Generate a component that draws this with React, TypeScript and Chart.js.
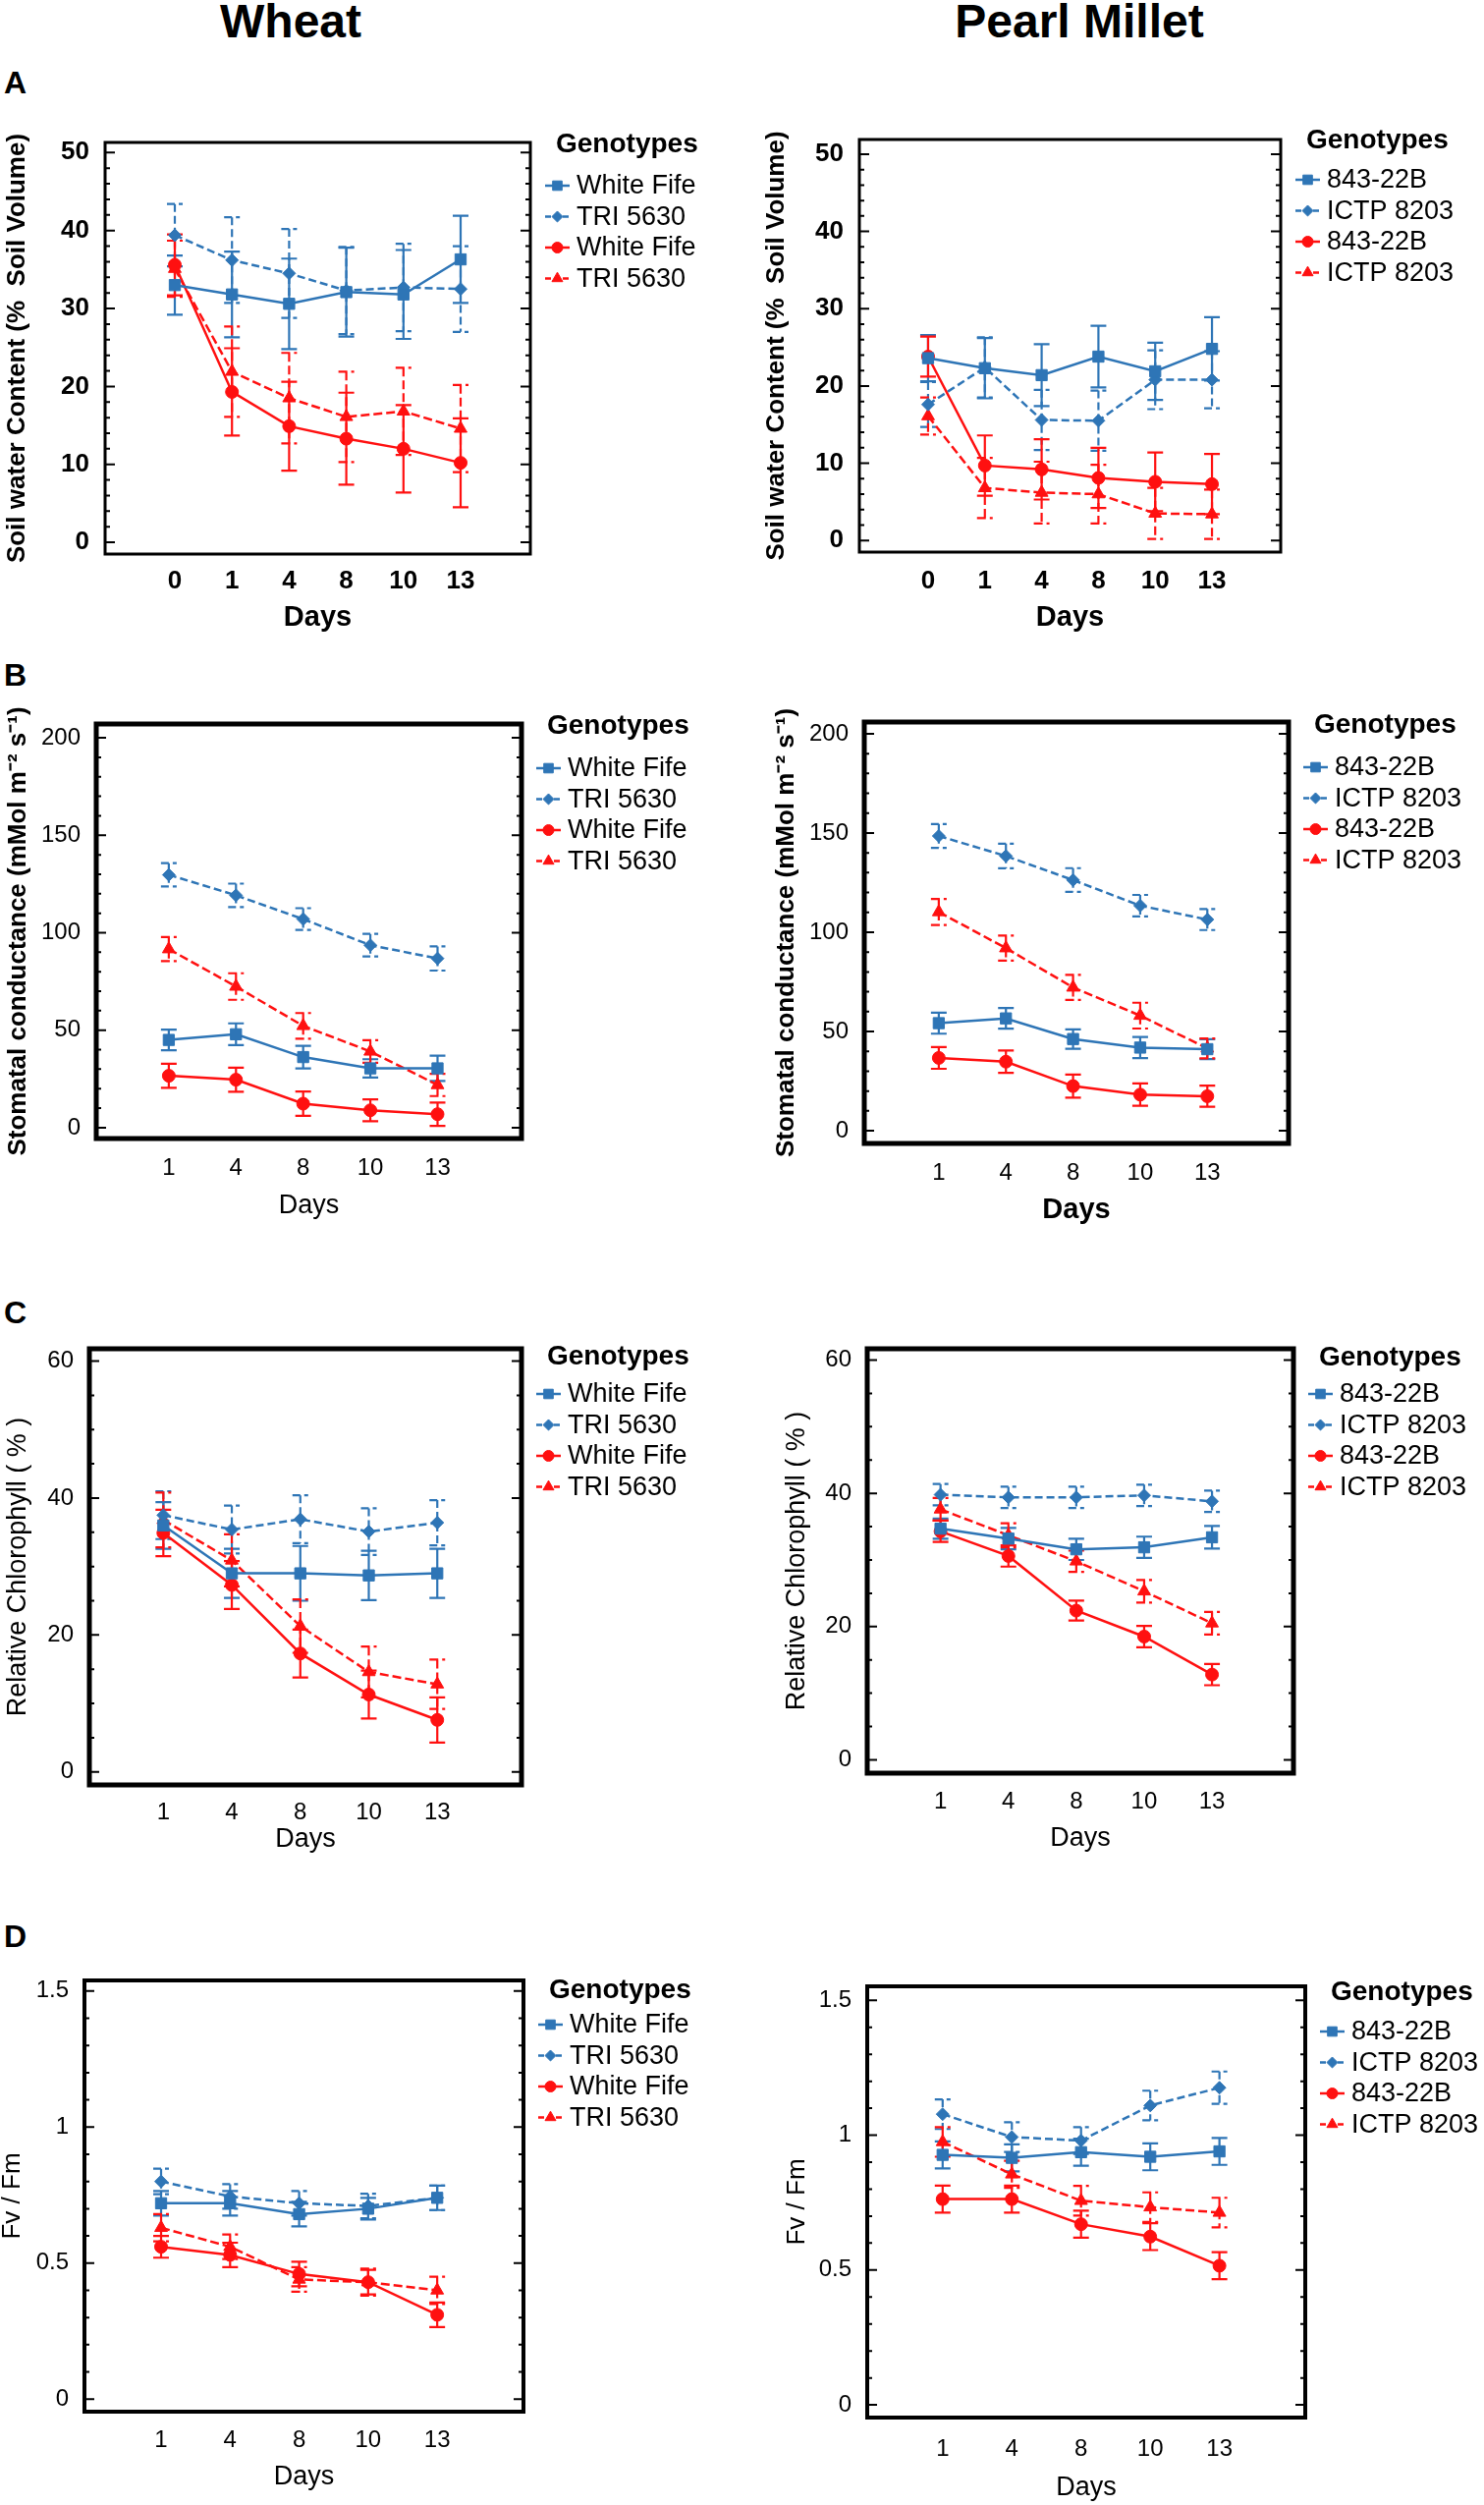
import { useEffect, useRef } from 'react';
import { Chart, registerables } from 'chart.js';
import { drawPoint } from 'chart.js/helpers';

Chart.register(...registerables);

const FONT = "'Liberation Sans', Arial, sans-serif";
const NARROW = "'Liberation Sans Narrow', 'Liberation Sans', Arial, sans-serif";
const BLUE = '#2e75b6';
const RED = '#ff1010';

// ---- x categories ----
const daysSoil = ['0', '1', '4', '8', '10', '13'];
const daysOther = ['1', '4', '8', '10', '13'];

const wheatNames = ['White Fife', 'TRI 5630', 'White Fife', 'TRI 5630'];
const milletNames = ['843-22B', 'ICTP 8203', '843-22B', 'ICTP 8203'];

// ---- A: soil water content ----
const wheatSoilWfBlue = [33.0, 31.8, 30.6, 32.1, 31.8, 36.3];
const wheatSoilWfBlueErr = [3.8, 5.5, 5.8, 5.7, 5.7, 5.6];
const wheatSoilTriBlue = [39.4, 36.2, 34.5, 32.3, 32.7, 32.5];
const wheatSoilTriBlueErr = [4.0, 5.5, 5.7, 5.6, 5.6, 5.5];
const wheatSoilWfRed = [35.6, 19.3, 14.9, 13.3, 12.0, 10.2];
const wheatSoilWfRedErr = [3.9, 5.6, 5.7, 5.9, 5.6, 5.7];
const wheatSoilTriRed = [35.1, 21.9, 18.5, 16.1, 16.8, 14.6];
const wheatSoilTriRedErr = [3.6, 5.8, 5.8, 5.8, 5.6, 5.6];

const milletSoil843Blue = [23.6, 22.3, 21.4, 23.8, 21.9, 24.8];
const milletSoil843BlueErr = [3.0, 3.9, 4.0, 4.0, 3.7, 4.1];
const milletSoilIctpBlue = [17.6, 22.4, 15.6, 15.5, 20.8, 20.8];
const milletSoilIctpBlueErr = [2.9, 3.9, 3.9, 3.9, 3.8, 3.7];
const milletSoil843Red = [23.8, 9.7, 9.2, 8.1, 7.6, 7.3];
const milletSoil843RedErr = [2.6, 3.9, 3.9, 3.9, 3.8, 3.9];
const milletSoilIctpRed = [16.1, 6.8, 6.2, 6.0, 3.5, 3.4];
const milletSoilIctpRedErr = [2.4, 3.9, 4.0, 3.8, 3.3, 3.2];

// ---- B: stomatal conductance ----
const wheatGsWfBlue = [45.0, 47.9, 36.2, 30.4, 30.4];
const wheatGsWfBlueErr = [5.3, 5.6, 5.8, 4.7, 6.5];
const wheatGsTriBlue = [129.7, 119.2, 107.0, 93.6, 86.8];
const wheatGsTriBlueErr = [6.0, 6.0, 5.6, 5.8, 6.2];
const wheatGsWfRed = [26.6, 24.6, 12.3, 8.9, 6.9];
const wheatGsWfRedErr = [6.2, 6.2, 6.2, 5.6, 6.0];
const wheatGsTriRed = [91.6, 72.4, 52.2, 39.1, 21.9];
const wheatGsTriRedErr = [6.2, 6.8, 6.6, 5.8, 5.7];

const milletGs843Blue = [54.2, 56.6, 46.2, 41.9, 41.1];
const milletGs843BlueErr = [5.3, 5.2, 4.9, 5.3, 5.0];
const milletGsIctpBlue = [148.5, 138.4, 126.3, 113.4, 106.4];
const milletGsIctpBlueErr = [6.0, 6.2, 6.0, 5.4, 5.3];
const milletGs843Red = [36.7, 34.8, 22.5, 18.2, 17.4];
const milletGs843RedErr = [5.5, 5.6, 5.8, 5.6, 5.3];
const milletGsIctpRed = [110.2, 92.0, 72.2, 58.0, 41.5];
const milletGsIctpRedErr = [6.6, 6.3, 6.3, 6.5, 5.0];

// ---- C: relative chlorophyll ----
const wheatChlWfBlue = [36.0, 29.0, 29.0, 28.7, 29.0];
const wheatChlWfBlueErr = [3.4, 3.6, 4.0, 3.6, 3.6];
const wheatChlTriBlue = [37.5, 35.4, 36.9, 35.1, 36.4];
const wheatChlTriBlueErr = [3.5, 3.5, 3.5, 3.4, 3.3];
const wheatChlWfRed = [34.9, 27.3, 17.3, 11.3, 7.6];
const wheatChlWfRedErr = [3.4, 3.5, 3.5, 3.5, 3.3];
const wheatChlTriRed = [36.8, 30.9, 21.3, 14.6, 12.8];
const wheatChlTriRedErr = [4.0, 3.8, 3.9, 3.7, 3.6];

const milletChl843Blue = [34.7, 33.2, 31.6, 31.9, 33.4];
const milletChl843BlueErr = [1.5, 1.6, 1.6, 1.6, 1.7];
const milletChlIctpBlue = [39.8, 39.4, 39.4, 39.7, 38.8];
const milletChlIctpBlueErr = [1.6, 1.6, 1.6, 1.6, 1.6];
const milletChl843Red = [34.3, 30.6, 22.4, 18.5, 12.8];
const milletChl843RedErr = [1.6, 1.6, 1.5, 1.6, 1.6];
const milletChlIctpRed = [37.6, 33.7, 29.8, 25.3, 20.5];
const milletChlIctpRedErr = [1.7, 1.8, 1.6, 1.7, 1.7];

// ---- D: Fv/Fm ----
const wheatFvWfBlue = [0.72, 0.72, 0.68, 0.70, 0.74];
const wheatFvWfBlueErr = [0.045, 0.045, 0.045, 0.04, 0.045];
const wheatFvTriBlue = [0.80, 0.745, 0.72, 0.71, 0.74];
const wheatFvTriBlueErr = [0.047, 0.045, 0.045, 0.045, 0.045];
const wheatFvWfRed = [0.56, 0.53, 0.46, 0.43, 0.31];
const wheatFvWfRedErr = [0.04, 0.045, 0.045, 0.045, 0.045];
const wheatFvTriRed = [0.63, 0.56, 0.44, 0.43, 0.40];
const wheatFvTriRedErr = [0.05, 0.045, 0.045, 0.05, 0.05];

const milletFv843Blue = [0.927, 0.916, 0.937, 0.92, 0.94];
const milletFv843BlueErr = [0.05, 0.05, 0.05, 0.05, 0.05];
const milletFvIctpBlue = [1.078, 0.993, 0.98, 1.11, 1.176];
const milletFvIctpBlueErr = [0.055, 0.055, 0.05, 0.055, 0.06];
const milletFv843Red = [0.763, 0.763, 0.67, 0.624, 0.516];
const milletFv843RedErr = [0.05, 0.05, 0.05, 0.05, 0.05];
const milletFvIctpRed = [0.975, 0.855, 0.757, 0.733, 0.713];
const milletFvIctpRedErr = [0.055, 0.05, 0.055, 0.055, 0.055];

// ---- y ticks ----
const soilTicks = [0, 10, 20, 30, 40, 50];
const gsTicks = [0, 50, 100, 150, 200];
const chlTicks = [0, 20, 40, 60];
const fvTicks = [0, 0.5, 1, 1.5];
const fvTickLabels = ['0', '0.5', '1', '1.5'];

// series styles in legend order: blue solid square, blue dashed diamond, red solid circle, red dashed triangle
const seriesStyle = [
  { color: BLUE, dash: [], point: 'rect', radius: 8 },
  { color: BLUE, dash: [8, 4], point: 'rectRot', radius: 6.5 },
  { color: RED, dash: [], point: 'circle', radius: 6.5 },
  { color: RED, dash: [9, 4], point: 'triangle', radius: 7.5 },
];

const errorBars = {
  id: 'errorBars',
  beforeDatasetsDraw(chart) {
    const ctx = chart.ctx;
    const yScale = chart.scales.y;
    chart.data.datasets.forEach((ds, k) => {
      const meta = chart.getDatasetMeta(k);
      ctx.save();
      ctx.strokeStyle = ds.borderColor;
      ctx.lineWidth = 2.2;
      ctx.setLineDash(ds.borderDash || []);
      meta.data.forEach((pt, i) => {
        const v = ds.data[i].y;
        const e = ds.errors[i];
        const top = yScale.getPixelForValue(v + e);
        const bot = yScale.getPixelForValue(v - e);
        ctx.beginPath();
        ctx.moveTo(pt.x, top);
        ctx.lineTo(pt.x, bot);
        ctx.moveTo(pt.x - 8, top);
        ctx.lineTo(pt.x + 8, top);
        ctx.moveTo(pt.x - 8, bot);
        ctx.lineTo(pt.x + 8, bot);
        ctx.stroke();
      });
      ctx.restore();
    });
  },
};

const frameBox = {
  id: 'frameBox',
  afterDraw(chart, _args, opts) {
    const { ctx } = chart;
    const { left, right, top, bottom } = chart.chartArea;
    const y = chart.scales.y;
    ctx.save();
    ctx.strokeStyle = '#000';
    ctx.lineWidth = 2;
    const first = Math.ceil(y.min / opts.minor);
    const last = Math.floor(y.max / opts.minor);
    for (let k = first; k <= last; k++) {
      const v = k * opts.minor;
      const py = y.getPixelForValue(v);
      const major = opts.major.some((m) => Math.abs(m - v) < opts.minor / 10);
      const len = major ? 10 : 5;
      ctx.beginPath();
      ctx.moveTo(left, py);
      ctx.lineTo(left + len, py);
      ctx.moveTo(right, py);
      ctx.lineTo(right - len, py);
      ctx.stroke();
    }
    ctx.lineWidth = opts.width;
    ctx.strokeRect(left, top, right - left, bottom - top);
    ctx.restore();
  },
};

const genoLegend = {
  id: 'genoLegend',
  afterDraw(chart, _args, opts) {
    const { ctx } = chart;
    const { right, top } = chart.chartArea;
    ctx.save();
    ctx.textAlign = 'left';
    ctx.textBaseline = 'middle';
    ctx.fillStyle = '#000';
    ctx.font = `bold 28px ${FONT}`;
    ctx.fillText('Genotypes', right + 26, top + opts.genY);
    chart.data.datasets.forEach((ds, k) => {
      const yy = top + opts.firstY + k * opts.step;
      ctx.strokeStyle = ds.borderColor;
      ctx.lineWidth = 2.5;
      ctx.setLineDash(ds.borderDash.length ? [6, 3] : []);
      ctx.beginPath();
      ctx.moveTo(right + 15, yy);
      ctx.lineTo(right + 40, yy);
      ctx.stroke();
      ctx.setLineDash([]);
      ctx.fillStyle = ds.borderColor;
      ctx.lineWidth = 1;
      drawPoint(ctx, { pointStyle: ds.pointStyle, radius: ds.pointRadius * 0.85, borderWidth: 1, rotation: 0 }, right + 27.5, yy);
      ctx.fillStyle = '#000';
      ctx.font = `27px ${FONT}`;
      ctx.fillText(ds.label, right + 47, yy + 1);
    });
    ctx.restore();
  },
};

type Panel = {
  col: number;
  frame: number[];
  xTickY: number;
  daysY: number;
  yTitleX: number;
  xRange: number[];
  yRange: number[];
  days: string[];
  names: string[];
  means: number[][];
  errs: number[][];
  yTicks: number[];
  yLabels: string[];
  minor: number;
  yTitle: string;
  yTitleSize: number;
  yTitleBold: boolean;
  daysBold: boolean;
  tickFamily: string;
  tickSize: number;
  tickBold: boolean;
  frameWidth: number;
  genY: number;
  firstY: number;
};

const soilTitle = 'Soil water Content (%  Soil Volume)';
const gsTitle = 'Stomatal conductance (mMol m\u207B\u00B2 s\u207B\u00B9)';
const chlTitle = 'Relative Chlorophyll ( % )';
const fvTitle = 'Fv / Fm';

const panels: Panel[] = [
  {
    col: 0, frame: [107, 145, 540, 564], xTickY: 584, daysY: 629, yTitleX: 18,
    xRange: [-1.22, 6.22], yRange: [-1.5, 51.3], days: daysSoil, names: wheatNames,
    means: [wheatSoilWfBlue, wheatSoilTriBlue, wheatSoilWfRed, wheatSoilTriRed],
    errs: [wheatSoilWfBlueErr, wheatSoilTriBlueErr, wheatSoilWfRedErr, wheatSoilTriRedErr],
    yTicks: soilTicks, yLabels: soilTicks.map(String), minor: 2,
    yTitle: soilTitle, yTitleSize: 26, yTitleBold: true, daysBold: true,
    tickFamily: NARROW, tickSize: 26, tickBold: true, frameWidth: 3, genY: 2, firstY: 44,
  },
  {
    col: 1, frame: [875, 142, 1304, 562], xTickY: 584, daysY: 629, yTitleX: 791,
    xRange: [-1.21, 6.21], yRange: [-1.5, 51.9], days: daysSoil, names: milletNames,
    means: [milletSoil843Blue, milletSoilIctpBlue, milletSoil843Red, milletSoilIctpRed],
    errs: [milletSoil843BlueErr, milletSoilIctpBlueErr, milletSoil843RedErr, milletSoilIctpRedErr],
    yTicks: soilTicks, yLabels: soilTicks.map(String), minor: 2,
    yTitle: soilTitle, yTitleSize: 26, yTitleBold: true, daysBold: true,
    tickFamily: NARROW, tickSize: 26, tickBold: true, frameWidth: 3, genY: 1, firstY: 41,
  },
  {
    col: 0, frame: [98, 737, 531, 1159], xTickY: 1181, daysY: 1228, yTitleX: 19,
    xRange: [-1.08, 5.25], yRange: [-5.6, 207.1], days: daysOther, names: wheatNames,
    means: [wheatGsWfBlue, wheatGsTriBlue, wheatGsWfRed, wheatGsTriRed],
    errs: [wheatGsWfBlueErr, wheatGsTriBlueErr, wheatGsWfRedErr, wheatGsTriRedErr],
    yTicks: gsTicks, yLabels: gsTicks.map(String), minor: 10,
    yTitle: gsTitle, yTitleSize: 26, yTitleBold: true, daysBold: false,
    tickFamily: FONT, tickSize: 24, tickBold: false, frameWidth: 5, genY: 2, firstY: 45,
  },
  {
    col: 1, frame: [880, 735, 1312, 1164], xTickY: 1186, daysY: 1232, yTitleX: 801,
    xRange: [-1.11, 5.21], yRange: [-6.4, 205.9], days: daysOther, names: milletNames,
    means: [milletGs843Blue, milletGsIctpBlue, milletGs843Red, milletGsIctpRed],
    errs: [milletGs843BlueErr, milletGsIctpBlueErr, milletGs843RedErr, milletGsIctpRedErr],
    yTicks: gsTicks, yLabels: gsTicks.map(String), minor: 10,
    yTitle: gsTitle, yTitleSize: 26, yTitleBold: true, daysBold: true,
    tickFamily: FONT, tickSize: 24, tickBold: false, frameWidth: 5, genY: 3, firstY: 46,
  },
  {
    col: 0, frame: [91, 1373, 531, 1817], xTickY: 1837, daysY: 1873, yTitleX: 19,
    xRange: [-1.08, 5.23], yRange: [-1.9, 61.8], days: daysOther, names: wheatNames,
    means: [wheatChlWfBlue, wheatChlTriBlue, wheatChlWfRed, wheatChlTriRed],
    errs: [wheatChlWfBlueErr, wheatChlTriBlueErr, wheatChlWfRedErr, wheatChlTriRedErr],
    yTicks: chlTicks, yLabels: chlTicks.map(String), minor: 5,
    yTitle: chlTitle, yTitleSize: 27, yTitleBold: false, daysBold: false,
    tickFamily: FONT, tickSize: 24, tickBold: false, frameWidth: 5, genY: 8, firstY: 46,
  },
  {
    col: 1, frame: [883, 1373, 1317, 1805], xTickY: 1826, daysY: 1872, yTitleX: 812,
    xRange: [-1.08, 5.2], yRange: [-2.0, 61.7], days: daysOther, names: milletNames,
    means: [milletChl843Blue, milletChlIctpBlue, milletChl843Red, milletChlIctpRed],
    errs: [milletChl843BlueErr, milletChlIctpBlueErr, milletChl843RedErr, milletChlIctpRedErr],
    yTicks: chlTicks, yLabels: chlTicks.map(String), minor: 5,
    yTitle: chlTitle, yTitleSize: 27, yTitleBold: false, daysBold: false,
    tickFamily: FONT, tickSize: 24, tickBold: false, frameWidth: 5, genY: 9, firstY: 46,
  },
  {
    col: 0, frame: [86, 2016, 533, 2455], xTickY: 2476, daysY: 2522, yTitleX: 13,
    xRange: [-1.11, 5.25], yRange: [-0.046, 1.539], days: daysOther, names: wheatNames,
    means: [wheatFvWfBlue, wheatFvTriBlue, wheatFvWfRed, wheatFvTriRed],
    errs: [wheatFvWfBlueErr, wheatFvTriBlueErr, wheatFvWfRedErr, wheatFvTriRedErr],
    yTicks: fvTicks, yLabels: fvTickLabels, minor: 0.1,
    yTitle: fvTitle, yTitleSize: 26, yTitleBold: false, daysBold: false,
    tickFamily: FONT, tickSize: 24, tickBold: false, frameWidth: 4, genY: 10, firstY: 45,
  },
  {
    col: 1, frame: [883, 2022, 1329, 2461], xTickY: 2485, daysY: 2533, yTitleX: 812,
    xRange: [-1.09, 5.24], yRange: [-0.047, 1.552], days: daysOther, names: milletNames,
    means: [milletFv843Blue, milletFvIctpBlue, milletFv843Red, milletFvIctpRed],
    errs: [milletFv843BlueErr, milletFvIctpBlueErr, milletFv843RedErr, milletFvIctpRedErr],
    yTicks: fvTicks, yLabels: fvTickLabels, minor: 0.1,
    yTitle: fvTitle, yTitleSize: 26, yTitleBold: false, daysBold: false,
    tickFamily: FONT, tickSize: 24, tickBold: false, frameWidth: 4, genY: 6, firstY: 46,
  },
];

const PanelChart = ({ p }: { p: Panel }) => {
  const chartRef = useRef(null);
  const canvasLeft = p.col === 0 ? 0 : 755;
  const canvasW = p.col === 0 ? 755 : 756;
  const canvasTop = p.frame[1] - 30;
  const daysSize = p.daysBold ? 29 : 27;
  const canvasBottom = Math.round(p.daysY + (daysSize * 1.2) / 2 + 2);
  const canvasH = canvasBottom - canvasTop;

  useEffect(() => {
    const xHeight = canvasBottom - p.frame[3];
    const yWidth = p.frame[0] - canvasLeft;
    const tickLh = p.tickSize * 1.2;
    const titleLh = p.yTitleSize * 1.2;
    const tickFont = { family: p.tickFamily, size: p.tickSize, weight: p.tickBold ? 'bold' : 'normal' };

    const chart = new Chart(chartRef.current, {
      type: 'line',
      data: {
        datasets: p.means.map((m, k) => ({
          label: p.names[k],
          data: m.map((v, i) => ({ x: i, y: v })),
          errors: p.errs[k],
          borderColor: seriesStyle[k].color,
          backgroundColor: seriesStyle[k].color,
          borderWidth: 2.5,
          borderDash: seriesStyle[k].dash,
          pointStyle: seriesStyle[k].point,
          pointRadius: seriesStyle[k].radius,
          pointBorderWidth: 1,
          tension: 0,
        })),
      },
      options: {
        animation: false,
        responsive: false,
        devicePixelRatio: 1,
        layout: {
          padding: { top: p.frame[1] - canvasTop, right: canvasLeft + canvasW - p.frame[2], bottom: 0, left: 0 },
        },
        plugins: {
          legend: { display: false },
          tooltip: { enabled: false },
          frameBox: { width: p.frameWidth, minor: p.minor, major: p.yTicks },
          genoLegend: { genY: p.genY, firstY: p.firstY, step: 31.5 },
        },
        scales: {
          x: {
            type: 'linear',
            min: p.xRange[0],
            max: p.xRange[1],
            afterBuildTicks: (s) => { s.ticks = p.days.map((_, i) => ({ value: i })); },
            afterFit: (s) => { s.height = xHeight; },
            grid: { display: false },
            border: { display: false },
            ticks: {
              callback: (v) => p.days[v],
              font: tickFont,
              color: '#000',
              padding: p.xTickY - p.frame[3] - tickLh / 2,
              autoSkip: false,
              maxRotation: 0,
            },
            title: {
              display: true,
              text: 'Days',
              color: '#000',
              font: { family: FONT, size: daysSize, weight: p.daysBold ? 'bold' : 'normal' },
              padding: { top: 0, bottom: 2 },
            },
          },
          y: {
            type: 'linear',
            min: p.yRange[0],
            max: p.yRange[1],
            afterBuildTicks: (s) => { s.ticks = p.yTicks.map((v) => ({ value: v })); },
            afterFit: (s) => { s.width = yWidth; },
            grid: { display: false },
            border: { display: false },
            ticks: {
              callback: (_v, i) => p.yLabels[i],
              font: tickFont,
              color: '#000',
              padding: 8,
            },
            title: {
              display: true,
              text: p.yTitle,
              color: '#000',
              font: { family: FONT, size: p.yTitleSize, weight: p.yTitleBold ? 'bold' : 'normal' },
              padding: { top: p.yTitleX - canvasLeft - titleLh / 2, bottom: 0 },
            },
          },
        },
      },
      plugins: [errorBars, frameBox, genoLegend],
    });

    return () => {
      chart.destroy();
    };
  }, [p]);

  return (
    <canvas
      ref={chartRef}
      width={canvasW}
      height={canvasH}
      style={{ position: 'absolute', left: canvasLeft, top: canvasTop, width: canvasW, height: canvasH }}
    />
  );
};

const letterStyle = {
  position: 'absolute',
  left: 4,
  fontFamily: FONT,
  fontWeight: 'bold',
  fontSize: 32,
  lineHeight: '32px',
} as const;

const titleStyle = {
  position: 'absolute',
  top: -2,
  width: 400,
  textAlign: 'center',
  fontFamily: FONT,
  fontWeight: 'bold',
  fontSize: 48,
  lineHeight: '48px',
} as const;

export default function App() {
  return (
    <div style={{ position: 'absolute', left: 0, top: 0, width: 1511, height: 2550, background: '#fff', overflow: 'hidden' }}>
      <div style={{ ...titleStyle, left: 296 - 200 }}>Wheat</div>
      <div style={{ ...titleStyle, left: 1099 - 200 }}>Pearl Millet</div>
      <div style={{ ...letterStyle, top: 68 }}>A</div>
      <div style={{ ...letterStyle, top: 671 }}>B</div>
      <div style={{ ...letterStyle, top: 1320 }}>C</div>
      <div style={{ ...letterStyle, top: 1955 }}>D</div>
      {panels.map((p, i) => (
        <PanelChart key={i} p={p} />
      ))}
    </div>
  );
}
